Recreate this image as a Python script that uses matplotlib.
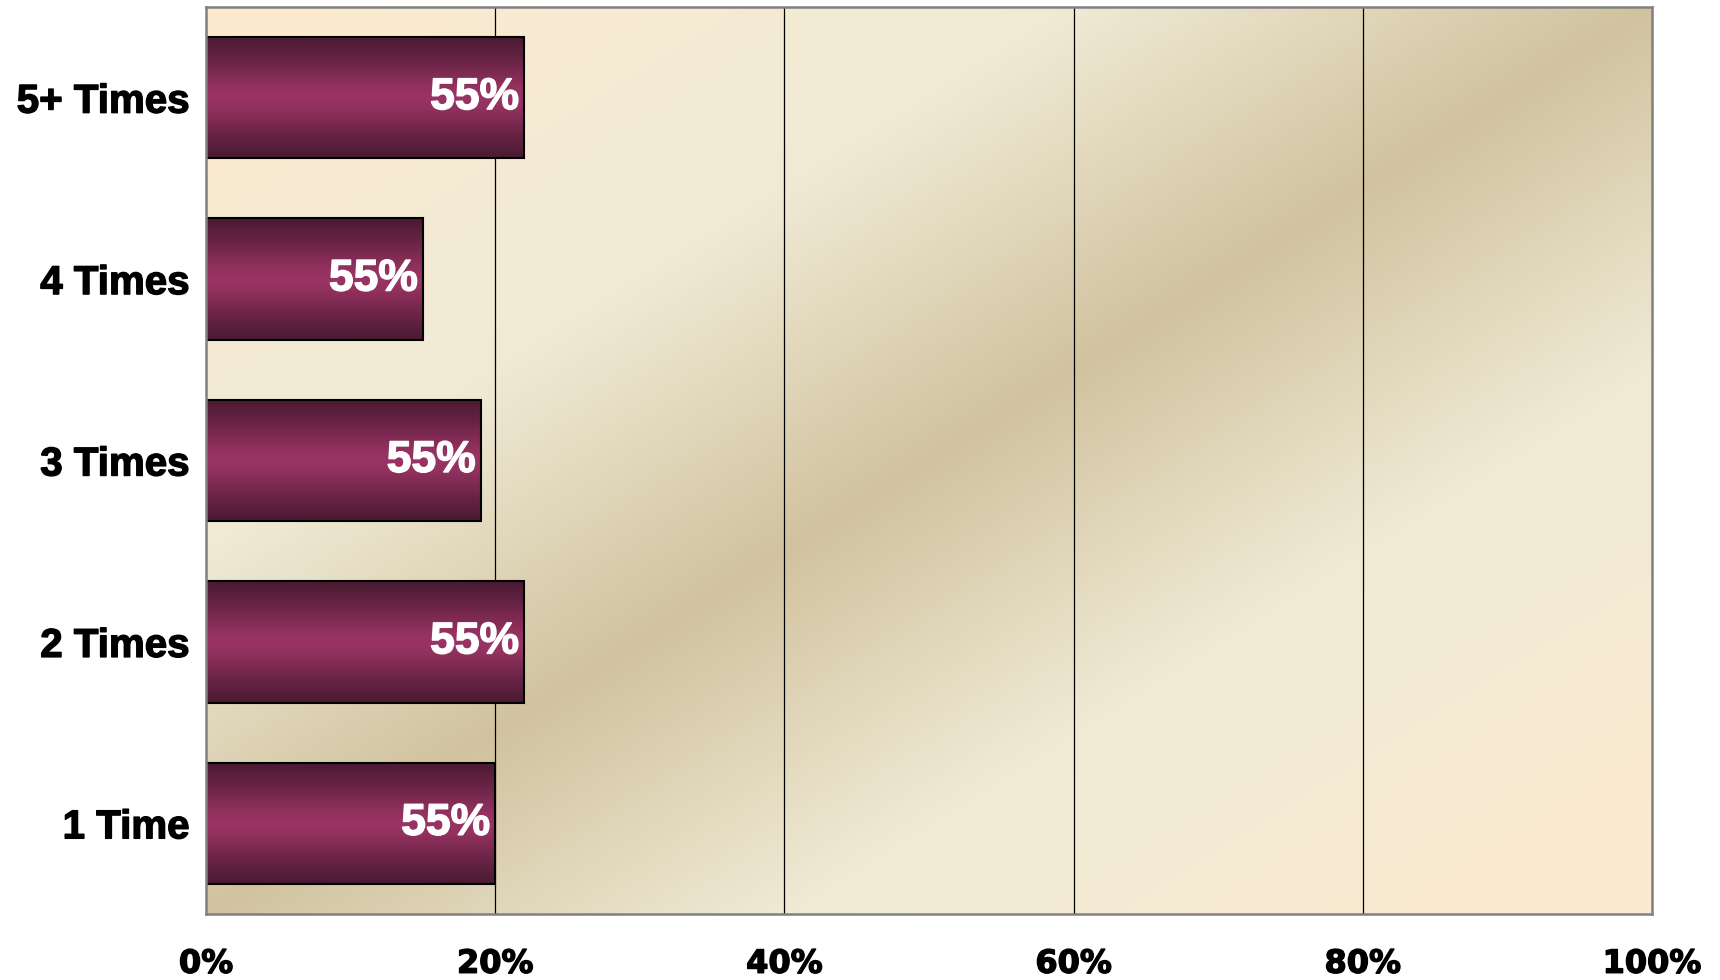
import numpy as np
import matplotlib.pyplot as plt
import matplotlib.patheffects as pe
from matplotlib.colors import LinearSegmentedColormap

plt.switch_backend('agg')

# Data (bottom to top)
categories = ['1 Time', '2 Times', '3 Times', '4 Times', '5+ Times']
values = [20.0, 22.0, 19.0, 15.0, 22.0]
bar_labels = ['55%', '55%', '55%', '55%', '55%']
x_ticks = [0, 20, 40, 60, 80, 100]
x_tick_labels = ['0%', '20%', '40%', '60%', '80%', '100%']

fig = plt.figure(figsize=(17.2, 9.8), dpi=100)
ax = fig.add_axes([0.1198, 0.0673, 0.8407, 0.9256])

# Parchment style diagonal background (mirrored)
bg_cmap = LinearSegmentedColormap.from_list(
    'parchment', [(0.0, '#d1c39f'), (0.4, '#f0ead5'), (1.0, '#fdebd0')])
u, v = np.meshgrid(np.linspace(0, 1, 600), np.linspace(1, 0, 400))
t = (u + (1 - v)) / 2
s = np.abs(2 * t - 1)
ax.imshow(s, cmap=bg_cmap, extent=(0, 1, 0, 1), transform=ax.transAxes,
          aspect='auto', zorder=0, interpolation='bilinear', vmin=0, vmax=1)

# Bars with a vertical gradient
bar_cmap = LinearSegmentedColormap.from_list(
    'plum', [(0.0, '#481a31'), (0.22, '#6e2549'), (0.42, '#94325f'),
             (0.5, '#9a3466'), (0.58, '#94325f'), (0.78, '#6e2549'),
             (1.0, '#481a31')])
grad = np.linspace(0, 1, 256).reshape(-1, 1)
y_pos = np.arange(len(categories))
bar_h = 0.67
bars = ax.barh(y_pos, values, height=bar_h, facecolor='none',
               edgecolor='black', linewidth=1.5, zorder=3)
for bar, val in zip(bars, values):
    y0 = bar.get_y()
    img = ax.imshow(grad, cmap=bar_cmap, extent=(0, val, y0, y0 + bar_h),
                    aspect='auto', zorder=2, interpolation='bilinear')
    img.set_clip_path(bar)

heavy_white = [pe.withStroke(linewidth=1.0, foreground='white')]
heavy_black = [pe.withStroke(linewidth=1.0, foreground='black')]

for y, val, lab in zip(y_pos, values, bar_labels):
    ax.text(val - 0.35, y, lab, ha='right', va='center', color='white',
            fontsize=32, fontweight='bold', family='Liberation Sans',
            zorder=4, path_effects=heavy_white)

ax.set_xlim(0, 100)
ax.set_ylim(-0.5, len(categories) - 0.5)

ax.set_xticks(x_ticks)
ax.set_xticklabels(x_tick_labels, fontsize=23, fontweight='bold',
                   family='DejaVu Sans', path_effects=heavy_black)
ax.set_yticks(y_pos)
ax.set_yticklabels(categories, fontsize=29, fontweight='bold',
                   family='Liberation Sans', path_effects=heavy_black)
ax.tick_params(axis='x', length=0, pad=25)
ax.tick_params(axis='y', length=0, pad=12)

for xg in x_ticks[1:-1]:
    ax.axvline(xg, color='black', linewidth=0.9, zorder=1)

for sp in ax.spines.values():
    sp.set_color('#808080')
    sp.set_linewidth(1.8)
    sp.set_zorder(5)

fig.savefig('out.png', dpi=100)
plt.close(fig)
